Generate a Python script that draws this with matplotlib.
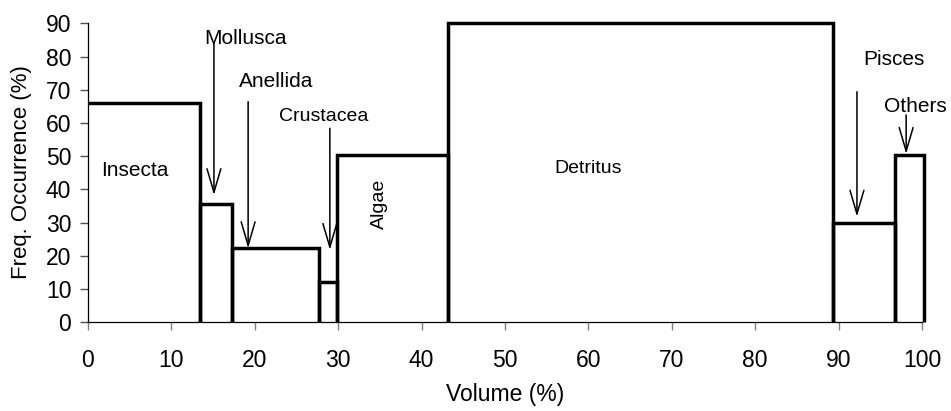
import numpy as np
import matplotlib
matplotlib.use("Agg")
import matplotlib.pyplot as plt

# Costello-style diet plot: volume (%) vs frequency of occurrence (%)
categories = ["Insecta", "Mollusca", "Anellida", "Crustacea", "Algae", "Detritus", "Pisces", "Others"]
volume = [13.4, 3.9, 10.4, 2.2, 13.3, 46.1, 7.5, 3.4]
freq = [66, 35.5, 22.5, 12.2, 50.4, 90, 30, 50.5]

# label positions (x, y) for text, arrows from (x, y0) to (x, y1)
label_pos = {
    "Insecta": (5.6, 45.8),
    "Mollusca": (18.9, 85.5),
    "Anellida": (22.5, 72.4),
    "Crustacea": (28.2, 61.9),
    "Algae": (35.0, 35.6),
    "Detritus": (60.0, 46.4),
    "Pisces": (96.6, 79.2),
    "Others": (99.2, 65.1),
}
label_size = {"Crustacea": 14, "Detritus": 14, "Algae": 14}
arrows = {
    "Mollusca": (15.1, 84, 38.3),
    "Anellida": (19.2, 66.4, 22.3),
    "Crustacea": (29.0, 58.4, 21.8),
    "Pisces": (92.2, 69.4, 31.8),
    "Others": (98.1, 62.4, 50.7),
}

plt.rcParams["font.family"] = ["Liberation Sans", "DejaVu Sans"]

fig = plt.figure(figsize=(9.51, 4.11), dpi=100)
ax = fig.add_axes([88 / 951, 1 - 322.3 / 411, 834 / 951, 299 / 411])

edges = np.concatenate([[0], np.cumsum(volume)])
for i, h in enumerate(freq):
    l, r = edges[i], edges[i + 1]
    if i == 0:
        xs, ys = [l, r, r], [h, h, 0]
    else:
        xs, ys = [l, l, r, r], [0, h, h, 0]
    ax.plot(xs, ys, color="black", lw=2.5, clip_on=False,
            solid_joinstyle="miter", solid_capstyle="butt", zorder=3)

for name in categories:
    x, y = label_pos[name]
    size = label_size.get(name, 15)
    if name == "Algae":
        ax.text(x, y, name, rotation=90, ha="center", va="center", fontsize=size)
    else:
        ax.text(x, y, name, ha="center", va="center", fontsize=size)

for name, (x, y0, y1) in arrows.items():
    ax.annotate("", xy=(x, y1), xytext=(x, y0),
                arrowprops=dict(arrowstyle="->,head_length=0.85,head_width=0.25",
                                lw=1.1, color="black", shrinkA=0, shrinkB=0,
                                mutation_scale=20))

ax.set_xlim(0, 100)
ax.set_ylim(0, 90)
ax.set_xticks(np.arange(0, 101, 10))
ax.set_yticks(np.arange(0, 91, 10))
ax.spines["top"].set_visible(False)
ax.spines["right"].set_visible(False)
for s in ["left", "bottom"]:
    ax.spines[s].set_linewidth(0.9)
ax.tick_params(axis="x", direction="out", length=6, width=1, color="#808080",
               labelsize=16.5, pad=13)
ax.tick_params(axis="y", direction="out", length=6, width=1, color="#505050",
               labelsize=16.5, pad=6)

fig.text(22 / 951, 1 - 172.5 / 411, "Freq. Occurrence (%)", rotation=90,
         ha="center", va="center", fontsize=16)
fig.text(505 / 951, 1 - 394 / 411, "Volume (%)", ha="center", va="center", fontsize=16.5)

fig.savefig("out.png", dpi=100)
